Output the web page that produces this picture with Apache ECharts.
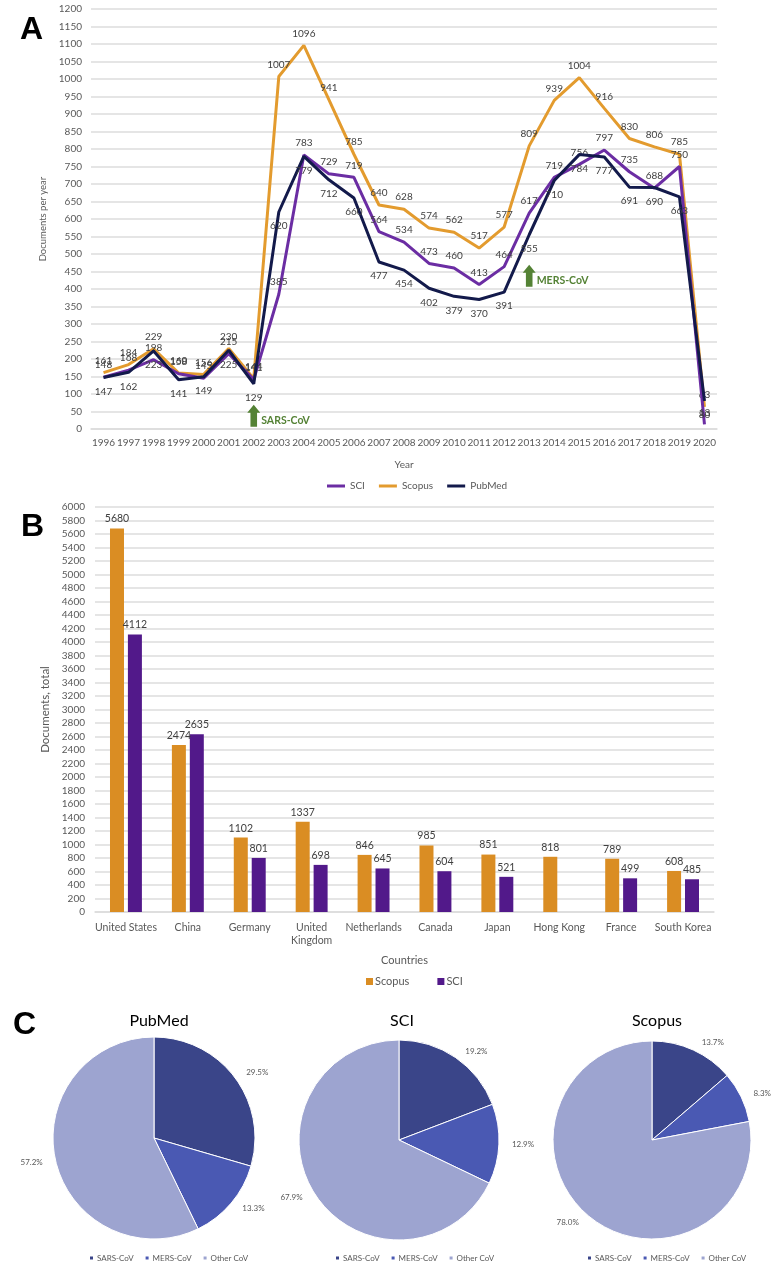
<!DOCTYPE html>
<html>
<head>
<meta charset="utf-8">
<script src="https://cdn.jsdelivr.net/npm/echarts@6/dist/echarts.min.js"></script>
<style>
html,body{margin:0;padding:0;background:#fff;}
#chart{width:776px;height:1265px;}
</style>
</head>
<body>
<div id="chart"></div>
<script>
// ---- Panel A data ----
const years = ['1996','1997','1998','1999','2000','2001','2002','2003','2004','2005','2006','2007','2008','2009','2010','2011','2012','2013','2014','2015','2016','2017','2018','2019','2020'];
const sciYear    = [148,168,198,158,145,215,141,385,783,729,719,564,534,473,460,413,464,617,719,756,797,735,688,750,13];
const scopusYear = [161,184,229,160,156,230,144,1007,1096,941,785,640,628,574,562,517,577,809,939,1004,916,830,806,785,63];
const pubmedYear = [147,162,223,141,149,225,129,620,779,712,660,477,454,402,379,370,391,555,710,784,777,691,690,663,80];
const yTicksA = {min:0, max:1200, interval:50};
const arrowNotes = [{label:'SARS-CoV', year:'2002', value:38}, {label:'MERS-CoV', year:'2013', value:438}];

// ---- Panel B data ----
const countries = ['United States','China','Germany','United\nKingdom','Netherlands','Canada','Japan','Hong Kong','France','South Korea'];
const scopusCountry = [5680,2474,1102,1337,846,985,851,818,789,608];
const sciCountry    = [4112,2635,801,698,645,604,521,null,499,485];
const yTicksB = {min:0, max:6000, interval:200};

// ---- Panel C data ----
const pieNames = ['SARS-CoV','MERS-CoV','Other CoV'];
const pubmedShare = [29.5,13.3,57.2];
const sciShare    = [19.2,12.9,67.9];
const scopusShare = [13.7,8.3,78.0];

const C_SCI = '#6B2DA3', C_SCOPUS = '#E39B2E', C_PUBMED = '#131A4B';
const B_SCOPUS = '#DA8D23', B_SCI = '#52198A';
const PIE_COLORS = ['#3A4589','#4A59B3','#9DA4D0'];
const GRID = '#dcdcdc', AX = '#595959', LBL = '#404040', GREEN = '#548235';

const arrowPath = 'path://M6.5,0 L13,8 L9.8,8 L9.8,22 L3.2,22 L3.2,8 L0,8 Z';

function lineSeries(name, data, color, pos, dist, z, extra) {
  return Object.assign({
    name: name, type: 'line', xAxisIndex: 0, yAxisIndex: 0, data: data,
    symbol: 'circle', symbolSize: 0.1, showSymbol: true, z: z,
    lineStyle: {width: 3, color: color}, itemStyle: {color: color},
    label: {show: true, position: pos, fontSize: 10, color: LBL, distance: dist},
    labelLayout: {hideOverlap: false}
  }, extra || {});
}

function pieSeries(name, data, center, radius) {
  return {
    name: name, type: 'pie', center: center, radius: radius, startAngle: 90, clockwise: true,
    data: pieNames.map((n, i) => ({name: n, value: data[i]})),
    itemStyle: {borderColor: '#fff', borderWidth: 1},
    color: PIE_COLORS,
    label: {show: true, position: 'outside', fontSize: 8, color: AX, overflow: 'none',
            formatter: p => p.value.toFixed(1) + '%'},
    labelLine: {show: false, length: 8, length2: 0},
    emphasis: {disabled: true}, animation: false
  };
}

const pieLegend = (left) => ({
  data: pieNames, left: left, top: 1249, icon: 'rect', itemWidth: 5, itemHeight: 5, itemGap: 10,
  textStyle: {fontSize: 8, color: AX, padding: [0, 0, 0, -2]}, selectedMode: false
});

const option = {
  animation: false,
  textStyle: {fontFamily: 'Lato'},
  title: [
    {text: 'A', left: 15, top: 9, textStyle: {fontSize: 32, fontWeight: 'bold', color: '#000', fontFamily: 'Liberation Sans'}},
    {text: 'B', left: 16, top: 506, textStyle: {fontSize: 32, fontWeight: 'bold', color: '#000', fontFamily: 'Liberation Sans'}},
    {text: 'C', left: 8, top: 1004, textStyle: {fontSize: 32, fontWeight: 'bold', color: '#000', fontFamily: 'Liberation Sans'}},
    {text: 'PubMed', left: 154, top: 1008, textAlign: 'center', textStyle: {fontSize: 16, fontWeight: 'normal', color: '#000'}},
    {text: 'SCI', left: 397, top: 1008, textAlign: 'center', textStyle: {fontSize: 16, fontWeight: 'normal', color: '#000'}},
    {text: 'Scopus', left: 652, top: 1008, textAlign: 'center', textStyle: {fontSize: 16, fontWeight: 'normal', color: '#000'}}
  ],
  legend: [
    {data: ['SCI','Scopus','PubMed'], left: 322, top: 476, icon: 'rect', itemWidth: 18, itemHeight: 3, itemGap: 14,
     textStyle: {fontSize: 10, color: AX}, selectedMode: false},
    {data: ['Scopus (B)','SCI (B)'], left: 361, top: 971, icon: 'rect', itemWidth: 7, itemHeight: 7, itemGap: 28,
     formatter: n => n.replace(' (B)', ''), textStyle: {fontSize: 11, color: AX, padding: [0, 0, 0, -3]}, selectedMode: false},
    pieLegend(83), pieLegend(329), pieLegend(581)
  ],
  grid: [
    {left: 91, top: 9, width: 626, height: 420},
    {left: 95, top: 507, width: 619, height: 405}
  ],
  xAxis: [
    {type: 'category', gridIndex: 0, data: years, boundaryGap: true,
     name: 'Year', nameLocation: 'middle', nameGap: 31, nameTextStyle: {fontSize: 10, color: AX},
     axisTick: {show: false}, axisLine: {lineStyle: {color: GRID, width: 1.5}},
     axisLabel: {interval: 0, fontSize: 10, color: AX, margin: 9}},
    {type: 'category', gridIndex: 1, data: countries, boundaryGap: true,
     name: 'Countries', nameLocation: 'middle', nameGap: 43, nameTextStyle: {fontSize: 11, color: AX},
     axisTick: {show: false}, axisLine: {lineStyle: {color: GRID, width: 1.5}},
     axisLabel: {interval: 0, fontSize: 10.5, color: AX, margin: 9, lineHeight: 13}}
  ],
  yAxis: [
    {type: 'value', gridIndex: 0, min: yTicksA.min, max: yTicksA.max, interval: yTicksA.interval,
     name: 'Documents per year', nameLocation: 'middle', nameGap: 41, nameTextStyle: {fontSize: 9.5, color: AX},
     axisLine: {show: false}, axisTick: {show: false},
     axisLabel: {fontSize: 10, color: AX, margin: 9, formatter: v => String(v)},
     splitLine: {lineStyle: {color: GRID, width: 1.5}}},
    {type: 'value', gridIndex: 1, min: yTicksB.min, max: yTicksB.max, interval: yTicksB.interval,
     name: 'Documents, total', nameLocation: 'middle', nameGap: 40, nameTextStyle: {fontSize: 11.5, color: AX},
     axisLine: {show: false}, axisTick: {show: false},
     axisLabel: {fontSize: 10, color: AX, margin: 10, formatter: v => String(v)},
     splitLine: {lineStyle: {color: GRID, width: 1.5}}}
  ],
  series: [
    lineSeries('SCI', sciYear, C_SCI, 'top', 7, 3),
    lineSeries('Scopus', scopusYear, C_SCOPUS, 'top', 7, 2),
    lineSeries('PubMed', pubmedYear, C_PUBMED, 'bottom', 9, 4, {
      markPoint: {
        symbol: arrowPath, symbolSize: [13, 22], symbolKeepAspect: false,
        itemStyle: {color: GREEN},
        label: {show: true, position: 'right', distance: 1, offset: [0, 5], color: GREEN, fontWeight: 'bold', fontSize: 10.5,
                formatter: p => p.name},
        data: arrowNotes.map(a => ({name: a.label, coord: [a.year, a.value]}))
      }
    }),
    {name: 'Scopus (B)', type: 'bar', xAxisIndex: 1, yAxisIndex: 1, data: scopusCountry,
     barWidth: 14, barGap: '28%', itemStyle: {color: B_SCOPUS},
     label: {show: true, position: 'top', fontSize: 10.5, color: LBL, distance: 4}},
    {name: 'SCI (B)', type: 'bar', xAxisIndex: 1, yAxisIndex: 1, data: sciCountry,
     barWidth: 14, itemStyle: {color: B_SCI},
     label: {show: true, position: 'top', fontSize: 10.5, color: LBL, distance: 4}},
    pieSeries('piePubMed', pubmedShare, [154, 1138], 101),
    pieSeries('pieSCI', sciShare, [399, 1140], 100),
    pieSeries('pieScopus', scopusShare, [652, 1140], 99)
  ]
};

const chart = echarts.init(document.getElementById('chart'), null, {renderer: 'canvas'});
chart.setOption(option);
</script>
</body>
</html>
